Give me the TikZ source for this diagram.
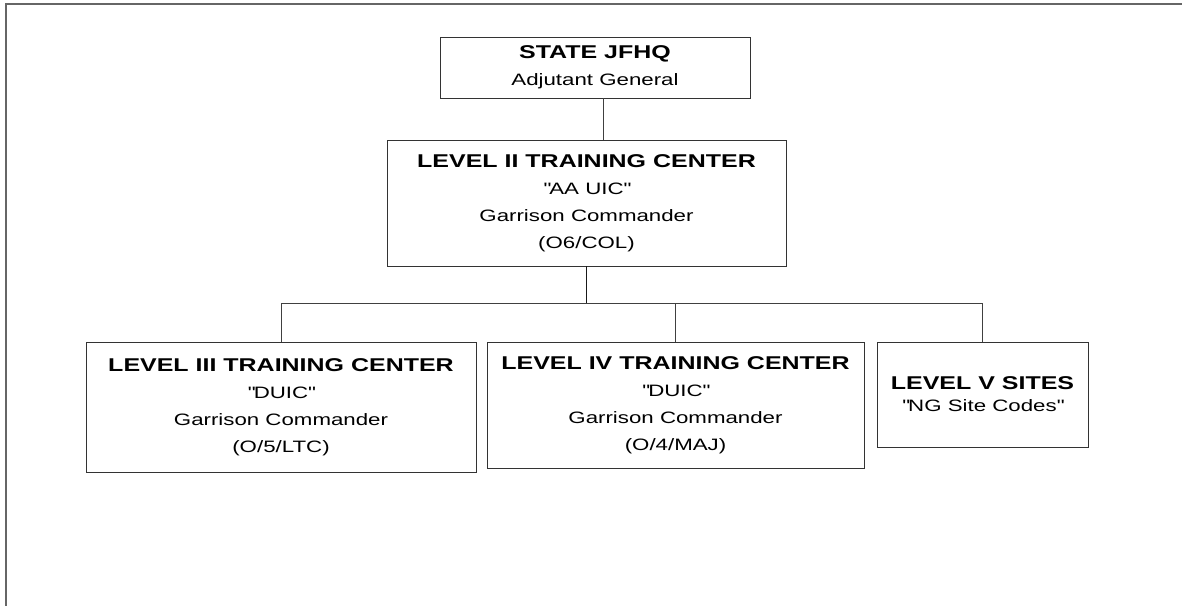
\documentclass[tikz,border=0pt]{standalone}
\usepackage{fontspec}
\setmainfont{Liberation Sans}[FakeStretch=1.35]
\usepackage{tikz}

\tikzset{
  box/.style={draw=black!80,line width=0.9pt,align=center,inner sep=0pt,
    font=\fontsize{16.5}{27}\selectfont},
  link/.style={draw=black!75,line width=0.8pt}
}
\newcommand{\boxtitle}[1]{{\fontsize{18.5}{27}\selectfont\bfseries #1}}
\newcommand{\qt}[1]{\textquotedbl#1\textquotedbl}

\begin{document}
\begin{tikzpicture}[x=1pt,y=-1pt]
    \useasboundingbox (0,0) rectangle (1182,606);
    \draw[black!60,line width=2pt] (1182,4) -- (6,4) -- (6,606);

    \node[box,minimum width=310pt,minimum height=61pt] (1) at (595,67.5)
      {\boxtitle{STATE JFHQ}\\ Adjutant General};
    \node[box,minimum width=399pt,minimum height=126pt] (2) at (586.5,203)
      {\boxtitle{LEVEL II TRAINING CENTER}\\ \qt{AA UIC}\\ Garrison Commander\\ (O6/COL)};
    \node[box,minimum width=390pt,minimum height=130pt] (3) at (281,407)
      {\boxtitle{LEVEL III TRAINING CENTER}\\ \qt{DUIC}\\ Garrison Commander\\ (O/5/LTC)};
    \node[box,minimum width=377pt,minimum height=126pt] (4) at (675.5,405)
      {\boxtitle{LEVEL IV TRAINING CENTER}\\ \qt{DUIC}\\ Garrison Commander\\ (O/4/MAJ)};
    \node[box,minimum width=211pt,minimum height=105pt,font=\fontsize{16.5}{22}\selectfont] (5) at (982.5,394.5)
      {\boxtitle{LEVEL V SITES}\\ \qt{NG Site Codes}};

    \draw[link] ([xshift=8pt]1.south) -- ([xshift=16.5pt]2.north);
    \draw[link,line width=1.3pt,draw=black!90] (2.south) -- ++(0,37) coordinate (bus);
    \draw[link] (3.north) |- (bus) -| (5.north);
    \draw[link] (4.north) -- (4.north |- bus);
  \end{tikzpicture}
\end{document}
